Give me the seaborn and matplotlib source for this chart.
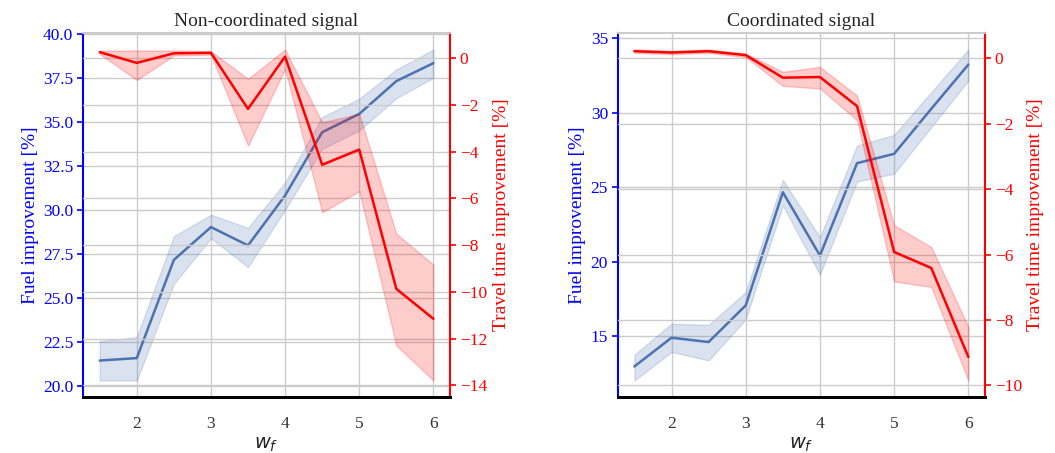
import numpy as np
import pandas as pd
import matplotlib.pyplot as plt
import seaborn as sns

# weight factor w_f
w_f = [1.5, 2.0, 2.5, 3.0, 3.5, 4.0, 4.5, 5.0, 5.5, 6.0]

# Non-coordinated signal
nc_fuel = [21.45, 21.59, 27.16, 29.02, 27.98, 30.81, 34.40, 35.44, 37.30, 38.32]
nc_fuel_lo = [20.32, 20.32, 25.80, 28.39, 26.75, 30.00, 33.46, 34.50, 36.33, 37.49]
nc_fuel_hi = [22.55, 22.78, 28.51, 29.72, 28.98, 31.55, 35.26, 36.30, 37.96, 39.09]
nc_time = [0.26, -0.20, 0.21, 0.23, -2.17, 0.07, -4.56, -3.91, -9.87, -11.15]
nc_time_lo = [0.18, -0.93, 0.12, 0.15, -3.74, -0.46, -6.59, -5.69, -12.29, -13.79]
nc_time_hi = [0.33, 0.33, 0.33, 0.30, -0.88, 0.37, -2.74, -2.38, -7.51, -8.83]

# Coordinated signal
c_fuel = [12.96, 14.89, 14.60, 17.06, 24.66, 20.41, 26.61, 27.24, 30.26, 33.23]
c_fuel_lo = [12.02, 13.93, 13.37, 16.12, 23.77, 19.12, 25.38, 25.90, 29.03, 32.16]
c_fuel_hi = [13.75, 15.83, 15.76, 17.95, 25.49, 21.64, 27.80, 28.51, 31.38, 34.24]
c_time = [0.22, 0.18, 0.22, 0.10, -0.59, -0.57, -1.46, -5.92, -6.41, -9.13]
c_time_lo = [0.17, 0.13, 0.17, 0.04, -0.84, -0.92, -1.89, -6.82, -6.99, -9.85]
c_time_hi = [0.27, 0.23, 0.27, 0.15, -0.41, -0.26, -1.14, -5.10, -5.77, -8.21]


def long_df(mid, lo, hi):
    # three rows per w_f: median = mid, min/max = band
    return pd.DataFrame({
        'w_f': w_f * 3,
        'val': list(lo) + list(mid) + list(hi),
    })


sns.set_theme(style="whitegrid")
plt.rcParams['font.family'] = ['Liberation Serif', 'DejaVu Serif']
plt.rcParams['mathtext.fontset'] = 'dejavusans'

fig = plt.figure(figsize=(10.55, 4.53), dpi=100)
positions = [[0.0787, 0.1236, 0.3479, 0.8035], [0.5855, 0.1236, 0.3482, 0.8035]]
panels = [
    ('Non-coordinated signal', (nc_fuel, nc_fuel_lo, nc_fuel_hi), (nc_time, nc_time_lo, nc_time_hi)),
    ('Coordinated signal', (c_fuel, c_fuel_lo, c_fuel_hi), (c_time, c_time_lo, c_time_hi)),
]

for pos, (title, fuel, ttime) in zip(positions, panels):
    ax = fig.add_axes(pos)
    sns.lineplot(data=long_df(*fuel), x='w_f', y='val', estimator='median',
                 errorbar=('pi', 100), color='#4c72b0', linewidth=1.8, ax=ax)
    ax.set_ylabel('Fuel improvement [%]', color='blue', fontsize=14, labelpad=3)
    ax.set_xlabel('$w_f$', fontsize=14, labelpad=2)
    ax.set_title(title, fontsize=14, pad=5)
    ax.tick_params(axis='y', colors='blue', length=4, width=1.2, labelsize=12.5, pad=3)
    ax.tick_params(axis='x', labelsize=12.5, colors='#333333', pad=8)
    ax.xaxis.label.set_color('#222222')
    ax.spines['left'].set_color('blue')
    ax.spines['left'].set_linewidth(1.5)
    ax.spines['bottom'].set_color('black')
    ax.spines['bottom'].set_linewidth(2)
    ax.set_xticks([2, 3, 4, 5, 6])

    ax2 = ax.twinx()
    sns.lineplot(data=long_df(*ttime), x='w_f', y='val', estimator='median',
                 errorbar=('pi', 100), color='red', linewidth=1.8, ax=ax2)
    ax2.set_ylabel('Travel time improvement [%]', color='red', fontsize=14, labelpad=4)
    ax2.set_xlabel('')
    ax2.tick_params(axis='y', colors='red', length=4, width=1.2, labelsize=12.5, pad=3)
    ax2.spines['right'].set_color('red')
    ax2.spines['right'].set_linewidth(1.5)
    ax2.spines['left'].set_visible(False)
    ax2.spines['bottom'].set_color('black')
    ax2.spines['bottom'].set_linewidth(2)
    ax2.grid(True)

fig.savefig('out.png', dpi=100)
